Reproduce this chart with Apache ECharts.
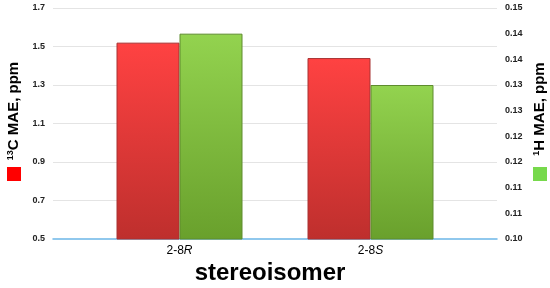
<!DOCTYPE html>
<html>
<head>
<meta charset="utf-8">
<script src="https://cdn.jsdelivr.net/npm/echarts@6/dist/echarts.min.js"></script>
<style>
  html, body { margin: 0; padding: 0; background: #fff; }
  #chart { width: 550px; height: 288px; }
</style>
</head>
<body>
<div id="chart"></div>
<script>
// stereoisomers on the x axis
const categories = ['2-8R', '2-8S']
// 13C MAE (left axis), 1H MAE (right axis)
const carbonMae = [1.52, 1.44]
const protonMae = [0.14, 0.13]
// axis ranges
const leftAxis = { min: 0.5, max: 1.7, interval: 0.2 }
const rightAxis = { min: 0.1, max: 0.145, interval: 0.005 }

const FONT = 'Liberation Sans, Arial, sans-serif'

const chart = echarts.init(document.getElementById('chart'))

function fmtRight (v) {
  return (Math.round(v * 100 + 1e-6) / 100).toFixed(2)
}

function gradient (top, bottom) {
  return new echarts.graphic.LinearGradient(0, 0, 0, 1, [
    { offset: 0, color: top },
    { offset: 1, color: bottom }
  ])
}

const axisLabelStyle = { fontFamily: FONT, fontSize: 9, fontWeight: 'bold', color: '#222' }

chart.setOption({
  backgroundColor: '#fff',
  animation: false,
  grid: [
    // frame grid: gridlines and tick labels
    { left: 53, right: 53, top: 8, bottom: 49 },
    // bar grid
    { left: 84, right: 84, top: 8, bottom: 49 }
  ],
  xAxis: [
    {
      gridIndex: 0,
      type: 'category',
      data: categories,
      axisLine: { lineStyle: { color: '#6cb6e8', width: 1.5 } },
      axisTick: { show: false },
      axisLabel: { show: false }
    },
    {
      gridIndex: 1,
      type: 'category',
      data: categories,
      axisLine: { show: false },
      axisTick: { show: false },
      axisLabel: {
        margin: 6,
        fontFamily: FONT,
        fontSize: 12,
        color: '#000',
        formatter: (v) => v.replace(/([RS])$/, '{i|$1}'),
        rich: { i: { fontFamily: FONT, fontSize: 12, fontStyle: 'italic', color: '#000' } }
      }
    }
  ],
  yAxis: [
    {
      gridIndex: 0,
      type: 'value',
      position: 'left',
      min: leftAxis.min,
      max: leftAxis.max,
      interval: leftAxis.interval,
      axisLine: { show: false },
      axisTick: { show: false },
      axisLabel: Object.assign({ margin: 8, formatter: (v) => v.toFixed(1) }, axisLabelStyle),
      splitLine: { showMinLine: false, lineStyle: { color: '#e4e4e4' } }
    },
    {
      gridIndex: 0,
      type: 'value',
      position: 'right',
      min: rightAxis.min,
      max: rightAxis.max,
      interval: rightAxis.interval,
      axisLine: { show: false },
      axisTick: { show: false },
      axisLabel: Object.assign({ margin: 8, formatter: fmtRight }, axisLabelStyle),
      splitLine: { show: false }
    },
    {
      gridIndex: 1,
      type: 'value',
      min: leftAxis.min,
      max: leftAxis.max,
      show: false
    },
    {
      gridIndex: 1,
      type: 'value',
      min: rightAxis.min,
      max: rightAxis.max,
      show: false
    }
  ],
  series: [
    {
      name: '13C MAE',
      type: 'bar',
      xAxisIndex: 1,
      yAxisIndex: 2,
      barWidth: 63,
      barGap: '0%',
      data: carbonMae,
      itemStyle: {
        color: gradient('#ff4242', '#be2f2d'),
        borderColor: '#a83232',
        borderWidth: 1
      }
    },
    {
      name: '1H MAE',
      type: 'bar',
      xAxisIndex: 1,
      yAxisIndex: 3,
      barWidth: 63,
      barGap: '0%',
      data: protonMae,
      itemStyle: {
        color: gradient('#93d34f', '#69a02c'),
        borderColor: '#5e8c2e',
        borderWidth: 1
      }
    }
  ],
  graphic: [
    // left axis title
    {
      type: 'text',
      x: 14,
      y: 111,
      rotation: Math.PI / 2,
      style: {
        text: '{sup|13}C MAE, ppm',
        font: 'bold 15px ' + FONT,
        fill: '#000',
        align: 'center',
        verticalAlign: 'middle',
        rich: { sup: { fontFamily: FONT, fontSize: 9, fontWeight: 'bold', verticalAlign: 'top', padding: [0, 0, 6, 0] } }
      }
    },
    { type: 'rect', shape: { x: 7, y: 167, width: 14, height: 14 }, style: { fill: '#ff0000' } },
    // right axis title
    {
      type: 'text',
      x: 540,
      y: 109,
      rotation: Math.PI / 2,
      style: {
        text: '{sup|1}H MAE, ppm',
        font: 'bold 15px ' + FONT,
        fill: '#000',
        align: 'center',
        verticalAlign: 'middle',
        rich: { sup: { fontFamily: FONT, fontSize: 9, fontWeight: 'bold', verticalAlign: 'top', padding: [0, 0, 6, 0] } }
      }
    },
    { type: 'rect', shape: { x: 533, y: 167, width: 14, height: 14 }, style: { fill: '#77d94c' } },
    // x axis title
    {
      type: 'text',
      x: 270,
      y: 273,
      style: {
        text: 'stereoisomer',
        font: 'bold 24px ' + FONT,
        fill: '#000',
        align: 'center',
        verticalAlign: 'middle'
      }
    }
  ]
})
</script>
</body>
</html>
